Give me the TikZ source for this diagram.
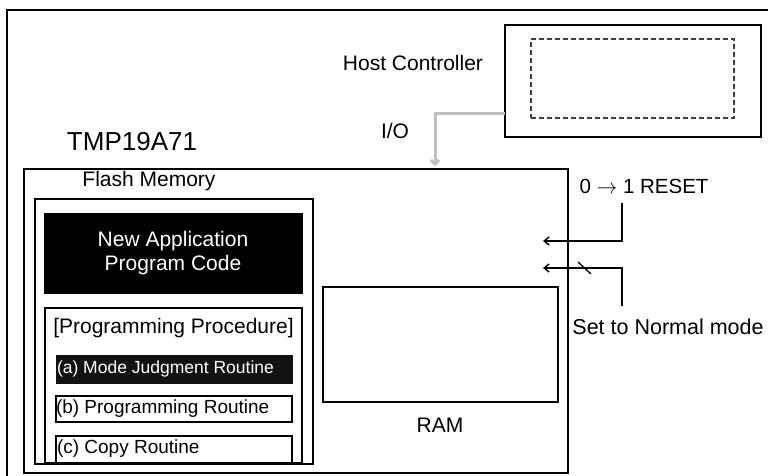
\documentclass[tikz,border=0pt]{standalone}
\usepackage{fontspec}
\setmainfont{Liberation Sans}
\usetikzlibrary{arrows.meta}
\begin{document}
\begin{tikzpicture}[x=1pt,y=-1pt,
  box/.style={draw=black, inner sep=0pt, outer sep=0pt, line width=#1},
  box/.default=1.5pt,
  txt/.style={inner sep=0pt, outer sep=0pt, text=black},
  sig/.style={line width=1.4pt, -{Straight Barb[length=5pt,width=8pt]}},
  ioarrow/.style={draw=black!25, line width=3pt, -{Straight Barb[length=4pt,width=8pt]}}
]
\useasboundingbox (0,0) rectangle (768,475);
\begin{scope}
\clip (0,0) rectangle (768,475);
\draw[line width=2.4pt] (7,10) rectangle (790,495);
\end{scope}

% Host controller
\node[box=2.8pt, minimum width=256pt, minimum height=112pt] (host) at (633,81) {};
\node[draw=black!75, dashed, dash pattern=on 5pt off 3pt, line width=1.1pt, inner sep=0pt, outer sep=0pt, minimum width=203pt, minimum height=79pt] (hostin) at (632.5,78.5) {};
\node[txt, font=\fontsize{21}{24}\selectfont] (hosttxt) at (413,63) {Host Controller};
\node[txt, font=\fontsize{21}{24}\selectfont] (io) at (395,131) {I/O};

% TMP19A71
\node[box=1.8pt, minimum width=544pt, minimum height=304pt] (tmp) at (296,321) {};
\node[txt, font=\fontsize{26}{30}\selectfont] (tmptxt) at (132,142) {TMP19A71};

% gray I/O arrow
\coordinate (ioA) at (505,113);
\coordinate (ioB) at (435,113);
\coordinate (ioC) at (435,166);
\draw[ioarrow] (ioA) -- (ioB) -- (ioC);

% Flash memory
\node[txt, font=\fontsize{21}{24}\selectfont] (flashtxt) at (149,181) {Flash Memory};
\node[box=2.4pt, minimum width=278pt, minimum height=265pt] (flash) at (174,331.5) {};
\node[fill=black, draw=black, inner sep=0pt, outer sep=0pt, minimum width=258pt, minimum height=80pt,
      text=white, align=center, font=\fontsize{21}{24}\selectfont] (newapp) at (173,253)
      {New Application\\Program Code};

% Programming procedure
\node[box=1.8pt, minimum width=257pt, minimum height=155pt] (proc) at (173.5,385.5) {};
\node[txt, font=\fontsize{21}{24}\selectfont] (proctxt) at (173.5,328) {[Programming Procedure]};
\node[fill=black!93, draw=black!93, inner sep=0pt, outer sep=0pt, minimum width=236pt, minimum height=28pt] (ra) at (174,369) {};
\node[txt, anchor=west, text=white, font=\fontsize{17.5}{20}\selectfont] (ratxt) at (57,369) {(a) Mode Judgment Routine};
\node[box=1.7pt, minimum width=236pt, minimum height=26pt] (rb) at (174,409) {};
\node[txt, anchor=west, font=\fontsize{19}{22}\selectfont] (rbtxt) at (56,409) {(b) Programming Routine};
\node[box=1.7pt, minimum width=236pt, minimum height=27pt] (rc) at (174,449.5) {};
\node[txt, anchor=west, font=\fontsize{19}{22}\selectfont] (rctxt) at (57,449) {(c) Copy Routine};

% RAM
\node[box=1.5pt, minimum width=235pt, minimum height=115pt] (ram) at (440.5,344.5) {};
\node[txt, font=\fontsize{21}{24}\selectfont] (ramtxt) at (440,425) {RAM};

% Reset / normal mode signals
\node[txt, font=\fontsize{20.5}{24}\selectfont] (reset) at (644,186) {0 $\rightarrow$ 1 RESET};
\node[txt, font=\fontsize{21.5}{24}\selectfont] (normal) at (668,327) {Set to Normal mode};
\coordinate (s1a) at (622,203);
\coordinate (s1b) at (622,241);
\coordinate (s1c) at (543,241);
\draw[sig] (s1a) -- (s1b) -- (s1c);
\coordinate (s2a) at (622,306);
\coordinate (s2b) at (622,268);
\coordinate (s2c) at (543,268);
\draw[sig] (s2a) -- (s2b) -- (s2c);
\coordinate (tk1) at (578,262);
\coordinate (tk2) at (591,274);
\draw[line width=1.3pt] (tk1) -- (tk2);
\end{tikzpicture}
\end{document}
